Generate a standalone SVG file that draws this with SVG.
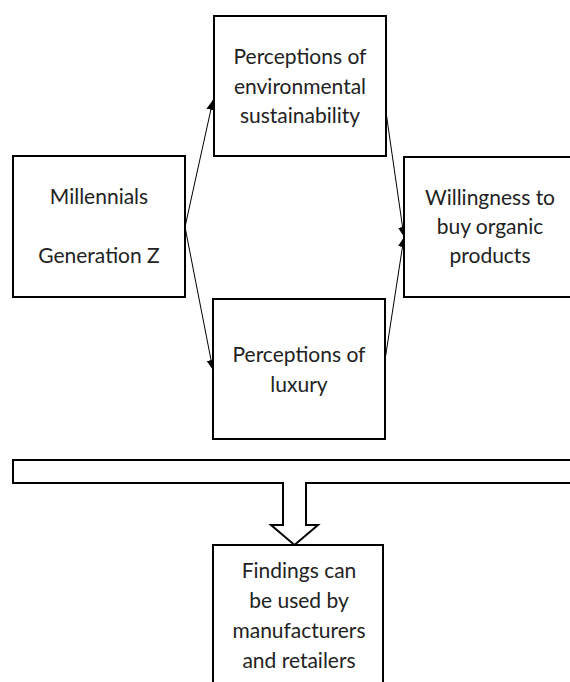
<svg xmlns="http://www.w3.org/2000/svg" width="570" height="682" viewBox="0 0 570 682">
<style>
.box{fill:#fff;stroke:#000;stroke-width:2}
.t{font-family:Lato,"Liberation Sans",sans-serif;font-size:21px;fill:#222;text-anchor:middle}
.c{stroke:#000;stroke-width:1;fill:none}
</style>
<defs>
<marker id="ah" markerUnits="userSpaceOnUse" markerWidth="12" markerHeight="10" refX="10" refY="4.5" orient="auto">
<path d="M0,0 L10,4.5 L0,9 Z" fill="#000"/>
</marker>
</defs>
<rect width="570" height="682" fill="#fff"/>
<g id="connectors">
<line class="c" x1="185" y1="227" x2="213" y2="100" marker-end="url(#ah)"/>
<line class="c" x1="185" y1="227" x2="213" y2="370" marker-end="url(#ah)"/>
<line class="c" x1="386" y1="112" x2="404" y2="237" marker-end="url(#ah)"/>
<line class="c" x1="385" y1="360" x2="404" y2="237" marker-end="url(#ah)"/>
<path id="big-arrow" class="box" d="M13,460 L575,460 L575,483 L306,483 L306,525 L318,525 L294.5,545 L271,525 L283,525 L283,483 L13,483 Z"/>
</g>
<g id="millennials">
<rect class="box" x="13" y="156" width="172" height="141"/>
<text class="t" x="99" y="204">Millennials</text>
<text class="t" x="99" y="263">Generation Z</text>
</g>
<g id="environmental">
<rect class="box" x="214" y="16" width="172" height="140"/>
<text class="t" x="300" y="64">Perceptions of</text>
<text class="t" x="300" y="94">environmental</text>
<text class="t" x="300" y="123">sustainability</text>
</g>
<g id="willingness">
<rect class="box" x="404" y="157" width="172" height="140"/>
<text class="t" x="490" y="205">Willingness to</text>
<text class="t" x="490" y="234">buy organic</text>
<text class="t" x="490" y="263">products</text>
</g>
<g id="luxury">
<rect class="box" x="213" y="299" width="172" height="140"/>
<text class="t" x="299" y="362">Perceptions of</text>
<text class="t" x="299" y="392">luxury</text>
</g>
<g id="findings">
<rect class="box" x="213" y="545" width="170" height="150"/>
<text class="t" x="299" y="578">Findings can</text>
<text class="t" x="299" y="608">be used by</text>
<text class="t" x="299" y="638">manufacturers</text>
<text class="t" x="299" y="668">and retailers</text>
</g>
</svg>
